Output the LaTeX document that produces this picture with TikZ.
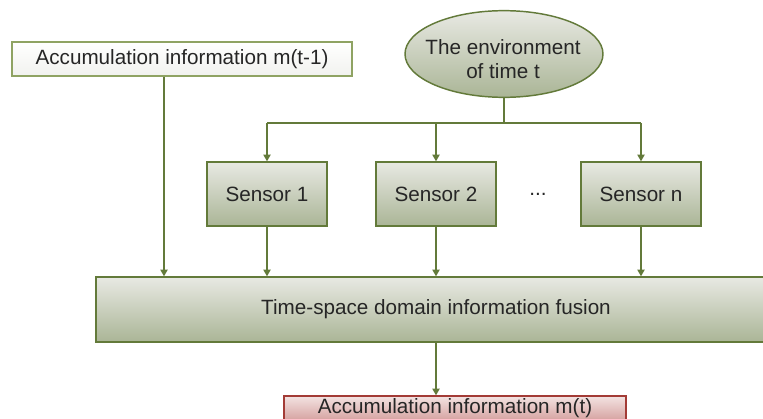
\documentclass[tikz,border=0pt]{standalone}
\usepackage{fontspec}
\setmainfont{Liberation Sans}
\usetikzlibrary{arrows.meta,shapes.geometric}
\definecolor{olive}{HTML}{637A3A}
\definecolor{oliveL}{HTML}{8FA363}
\definecolor{gtop}{HTML}{E8E9E3}
\definecolor{gbot}{HTML}{AAB596}
\definecolor{rtop}{HTML}{F3E3E2}
\definecolor{rbot}{HTML}{D6A3A1}
\definecolor{redb}{HTML}{A33B36}
\definecolor{txt}{HTML}{262626}
\tikzset{
  lbl/.style={text=txt,font=\fontsize{15.5}{19}\selectfont},
  gbox/.style={lbl,draw=olive,line width=1.1pt,top color=gtop,bottom color=gbot,inner sep=0pt,align=center},
  wbox/.style={lbl,draw=oliveL,line width=1.1pt,top color=white,bottom color=gtop!60!white,inner sep=0pt},
  rbox/.style={lbl,draw=redb,line width=1.1pt,top color=rtop,bottom color=rbot,inner sep=0pt},
  conn/.style={draw=olive,line width=0.9pt},
  arr/.style={conn,-{Triangle[width=5.5pt,length=5pt]}}
}
\begin{document}
\begin{tikzpicture}[x=0.75pt,y=-0.75pt]
\useasboundingbox (0,0) rectangle (763,418);
\node[wbox,minimum width=255pt,minimum height=25.5pt] (acc) at (182,59) {Accumulation information m(t-1)};
\node[gbox,ellipse,minimum width=148.5pt,minimum height=65pt] (env) at (504,54) {};
\node[lbl,align=center,font=\fontsize{15.5}{18.5}\selectfont] (envt) at (503,59) {The environment\\of time t};
\node[gbox,minimum width=90pt,minimum height=48pt] (s1) at (267,194) {Sensor 1};
\node[gbox,minimum width=90pt,minimum height=48pt] (s2) at (436,194) {Sensor 2};
\node[gbox,minimum width=90pt,minimum height=48pt] (sn) at (641,194) {Sensor n};
\node[lbl] (dots) at (538,194) {...};
\node[gbox,minimum width=510pt,minimum height=48.75pt] (fus) at (436,309.5) {Time-space domain information fusion};
\node[rbox,minimum width=256.5pt,minimum height=18pt] (out) at (455,408) {Accumulation information m(t)};
\coordinate (busL) at (267,123);
\coordinate (busR) at (641,123);
\draw[conn] (env.south) -- (env.south |- busL);
\draw[conn] (busL) -- (busR);
\draw[arr] (busL) -- (s1.north);
\draw[arr] (s2.north |- busL) -- (s2.north);
\draw[arr] (busR) -- (sn.north);
\draw[arr] (acc.south -| 164,0) -- (164,0 |- fus.north);
\draw[arr] (s1.south) -- (s1.south |- fus.north);
\draw[arr] (s2.south) -- (s2.south |- fus.north);
\draw[arr] (sn.south) -- (sn.south |- fus.north);
\draw[arr] (fus.south -| 436,0) -- (436,0 |- out.north);
\end{tikzpicture}
\end{document}
